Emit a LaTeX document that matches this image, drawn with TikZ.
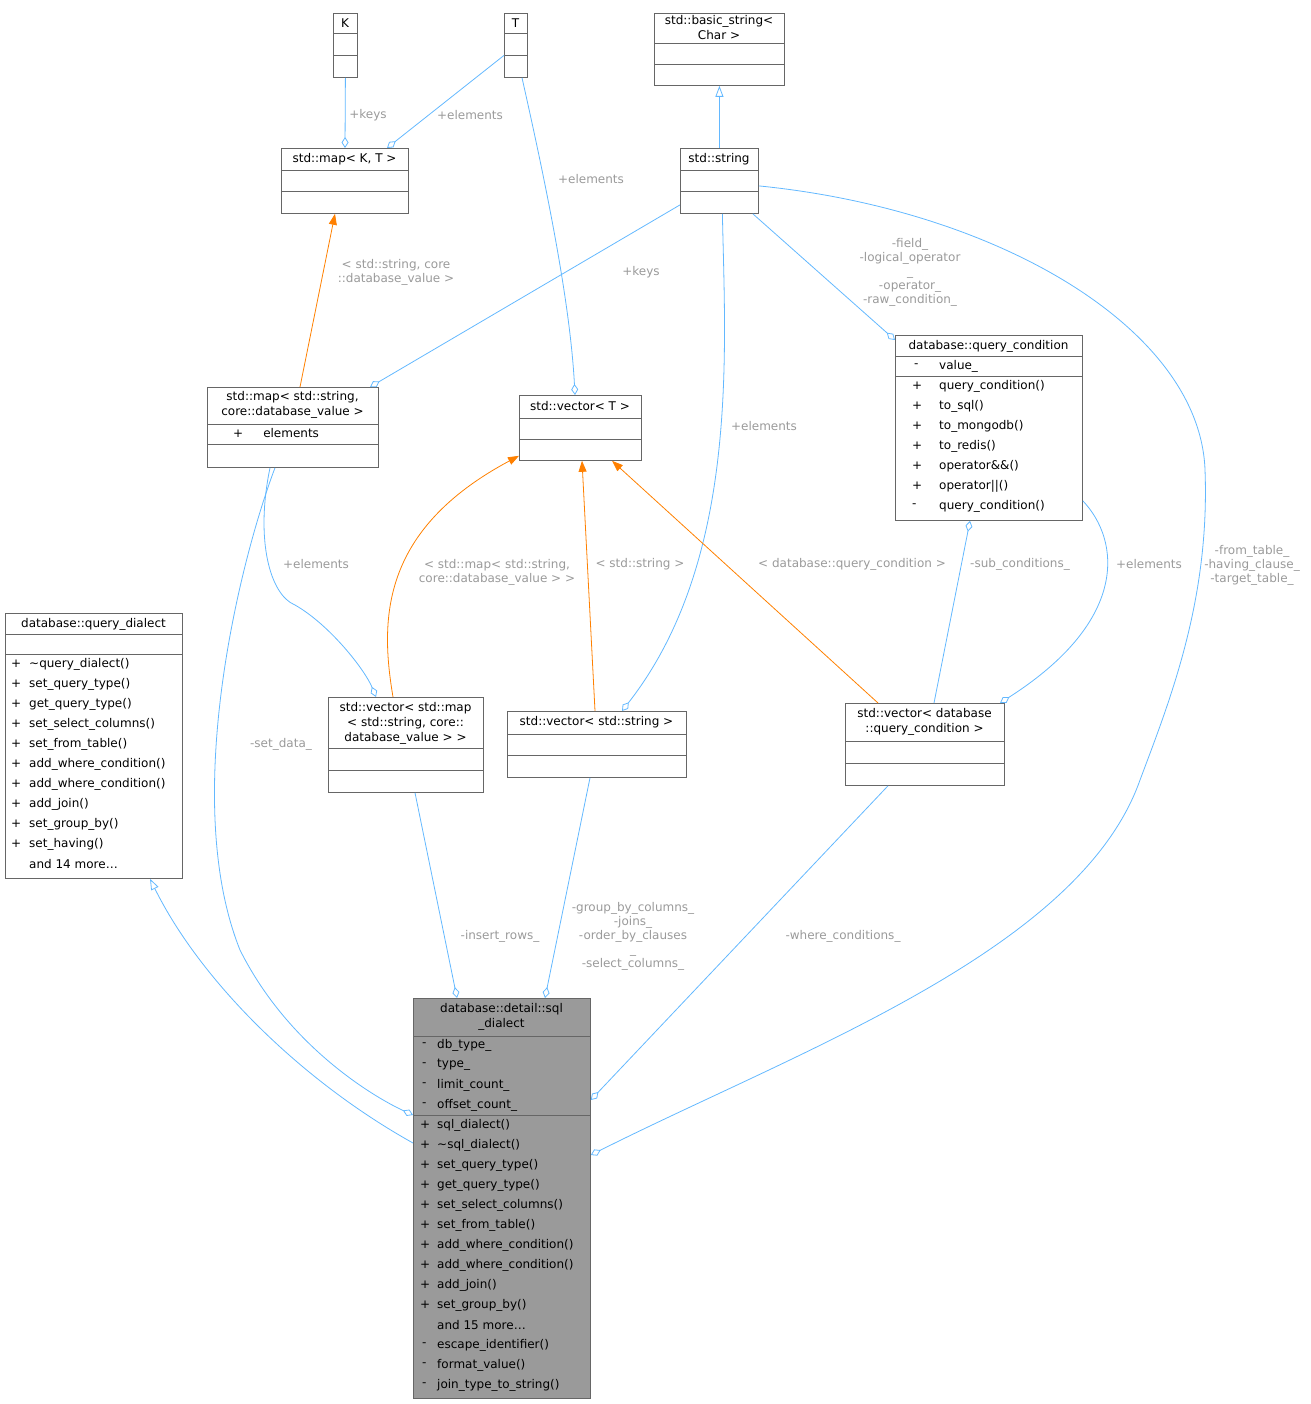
\documentclass[tikz,border=0pt]{standalone}
\usepackage{fontspec}
\setmainfont{DejaVu Sans}
\usetikzlibrary{arrows.meta}
\definecolor{eb}{HTML}{63B8FF}
\definecolor{lg}{HTML}{9A9A9A}
\definecolor{bl}{HTML}{666666}
\begin{document}
\begin{tikzpicture}[x=1pt,y=-1pt,
  box/.style={draw=bl,fill=white,line width=0.8pt,inner sep=0,anchor=north west},
  mem/.style={inner sep=0,anchor=west,font=\fontsize{12}{15}\selectfont},
  ttl/.style={inner sep=0,align=center,font=\fontsize{12}{15}\selectfont},
  lbl/.style={inner sep=0,align=center,text=lg,font=\fontsize{12}{14}\selectfont},
  edge/.style={draw=eb,line width=0.8pt},
  agg/.style={edge,-{Diamond[open,length=11pt,width=7pt]}},
  inh/.style={edge,-{Triangle[open,length=11pt,width=8pt]}},
  tpl/.style={draw=orange,line width=0.8pt,-{Triangle[length=11pt,width=8pt]}}]
\newcommand\cbox[6][white]{\node[box,fill=#1,minimum width={(#5-#3)*1pt},minimum height={(#6-#4)*1pt}] (#2) at (#3,#4) {};}
\newcommand\hl[3]{\draw[bl,line width=0.8pt] (#1,#3) -- (#2,#3);}
\useasboundingbox (0,0) rectangle (1310,1404);
% boxes
\cbox{K}{333}{13}{357}{77}\hl{333}{357}{33}\hl{333}{357}{55}
\node[ttl] (tK) at (345,23) {K};
\cbox{T}{504}{13}{527}{77}\hl{504}{527}{33}\hl{504}{527}{55}
\node[ttl] (tT) at (515.5,23) {T};
\cbox{bs}{654}{13}{784}{85}\hl{654}{784}{43}\hl{654}{784}{64}
\node[ttl] (tbs) at (719,28) {std::basic\_string<\\Char >};
\cbox{mKT}{281}{148}{408}{213}\hl{281}{408}{170}\hl{281}{408}{191}
\node[ttl] (tmKT) at (344.5,159) {std::map< K, T >};
\cbox{str}{680}{148}{758}{213}\hl{680}{758}{170}\hl{680}{758}{191}
\node[ttl] (tstr) at (719,159) {std::string};
\cbox{mSD}{207}{387}{378}{467}\hl{207}{378}{424}\hl{207}{378}{444}
\node[ttl] (tmSD) at (292.5,405) {std::map< std::string,\\core::database\_value >};
\node[mem] (mSDa) at (233,433) {+\hspace{20pt}elements};
\cbox{vT}{519}{395}{641}{460}\hl{519}{641}{418}\hl{519}{641}{439}
\node[ttl] (tvT) at (580,406) {std::vector< T >};
\cbox{qc}{895}{335}{1082}{520}\hl{895}{1082}{356}\hl{895}{1082}{376}
\node[ttl] (tqc) at (988.5,346) {database::query\_condition};
\node[mem] at (914,366) {-}; \node[mem] at (939,366) {value\_};
\foreach \s/\t [count=\i from 0] in {+/query\_condition(),+/to\_sql(),+/to\_mongodb(),+/to\_redis(),+/operator\&\&(),+/operator||(),-/query\_condition()}
  {\node[mem] at (912,386+20*\i) {\s}; \node[mem] at (939,386+20*\i) {\t};}
\cbox{qd}{5}{613}{182}{878}\hl{5}{182}{634}\hl{5}{182}{654}
\node[ttl] (tqd) at (93.5,624) {database::query\_dialect};
\foreach \t [count=\i from 0] in {\textasciitilde query\_dialect(),set\_query\_type(),get\_query\_type(),set\_select\_columns(),set\_from\_table(),add\_where\_condition(),add\_where\_condition(),add\_join(),set\_group\_by(),set\_having()}
  {\node[mem] at (11,664+20*\i) {+}; \node[mem] at (29,664+20*\i) {\t};}
\node[mem] at (29,864) {and 14 more\ldots};
\cbox{vM}{328}{697}{483}{792}\hl{328}{483}{748}\hl{328}{483}{770}
\node[ttl] (tvM) at (405.5,723) {std::vector< std::map\\< std::string, core::\\database\_value > >};
\cbox{vS}{507}{711}{686}{777}\hl{507}{686}{734}\hl{507}{686}{755}
\node[ttl] (tvS) at (596.5,722.5) {std::vector< std::string >};
\cbox{vQ}{845}{703}{1004}{785}\hl{845}{1004}{741}\hl{845}{1004}{763}
\node[ttl] (tvQ) at (924.5,722) {std::vector< database\\::query\_condition >};
\cbox[lg]{sd}{413}{998}{590}{1398}\hl{413}{590}{1036}\hl{413}{590}{1115}
\node[ttl] (tsd) at (501.5,1017) {database::detail::sql\\\_dialect};
\foreach \t [count=\i from 0] in {db\_type\_,type\_,limit\_count\_,offset\_count\_}
  {\node[mem] at (422,1045+20*\i) {-}; \node[mem] at (437,1045+20*\i) {\t};}
\foreach \t [count=\i from 0] in {sql\_dialect(),\textasciitilde sql\_dialect(),set\_query\_type(),get\_query\_type(),set\_select\_columns(),set\_from\_table(),add\_where\_condition(),add\_where\_condition(),add\_join(),set\_group\_by()}
  {\node[mem] at (420,1125+20*\i) {+}; \node[mem] at (437,1125+20*\i) {\t};}
\node[mem] at (437,1325) {and 15 more\ldots};
\foreach \t [count=\i from 0] in {escape\_identifier(),format\_value(),join\_type\_to\_string()}
  {\node[mem] at (422,1345+20*\i) {-}; \node[mem] at (437,1345+20*\i) {\t};}
% edges
\draw[agg] (K.south) -- ([xshift=64pt]mKT.north west);
\node[lbl] at (368,115) {+keys};
\draw[agg] ([yshift=-10pt]T.west) -- ([xshift=106pt]mKT.north west);
\node[lbl] at (470,115) {+elements};
\draw[inh] (str.north) -- (bs.south);
\draw[agg] ([xshift=18pt]T.south west) .. controls (545,180) and (570,300) .. ([xshift=56pt]vT.north west);
\node[lbl] at (591,179) {+elements};
\draw[tpl] ([xshift=93pt]mSD.north west) -- ([xshift=54pt]mKT.south west);
\node[lbl] at (396,272) {< std::string, core\\::database\_value >};
\draw[agg] ([yshift=-24pt]str.west) -- ([xshift=163pt]mSD.north west);
\node[lbl] at (641,272) {+keys};
\draw[agg] ([xshift=-6pt]str.south east) -- ([yshift=-5pt]qc.north west);
\node[lbl] at (910,272) {-field\_\\-logical\_operator\\\_\\-operator\_\\-raw\_condition\_};
\draw[agg] ([xshift=3pt]str.south) .. controls (725,350) and (740,560) .. ([xshift=115pt]vS.north west);
\node[lbl] at (764,426) {+elements};
\draw[agg] ([yshift=-5pt]str.east) .. controls (1000,210) and (1200,330) .. (1205,470) .. controls (1210,600) and (1170,700) .. (1140,780) .. controls (1080,950) and (800,1050) .. ([yshift=-157pt]sd.north east);
\node[lbl] at (1252,565) {-from\_table\_\\-having\_clause\_\\-target\_table\_};
\draw[agg] ([xshift=68pt]mSD.south west) .. controls (240,560) and (180,800) .. (240,950) .. controls (290,1050) and (380,1100) .. ([yshift=-117pt]sd.north west);
\node[lbl] at (281,744) {-set\_data\_};
\draw[agg] ([xshift=63pt]mSD.south west) .. controls (255,540) and (270,595) .. (295,605) .. controls (330,625) and (365,670) .. ([xshift=48pt]vM.north west);
\node[lbl] at (316,564) {+elements};
\draw[tpl] ([xshift=65pt]vM.north west) .. controls (380,620) and (380,530) .. ([yshift=5pt]vT.south west);
\node[lbl] at (497,572) {< std::map< std::string,\\core::database\_value > >};
\draw[tpl] ([xshift=88pt]vS.north west) -- ([xshift=63pt]vT.south west);
\node[lbl] at (640,564) {< std::string >};
\draw[tpl] ([xshift=33pt]vQ.north west) -- ([xshift=93pt]vT.south west);
\node[lbl] at (852,564) {< database::query\_condition >};
\draw[agg] ([xshift=89pt]vQ.north west) -- ([xshift=75pt]qc.south west);
\node[lbl] at (1020,564) {-sub\_conditions\_};
\draw[agg] ([yshift=20pt]qc.south east) .. controls (1120,540) and (1130,620) .. ([xshift=155pt]vQ.north west);
\node[lbl] at (1149,564) {+elements};
\draw[inh] ([yshift=-145pt]sd.north west) .. controls (300,1080) and (200,980) .. ([xshift=145pt]qd.south west);
\draw[agg] ([xshift=87pt]vM.south west) -- ([xshift=44pt]sd.north west);
\node[lbl] at (500,936) {-insert\_rows\_};
\draw[agg] ([xshift=83pt]vS.south west) -- ([xshift=132pt]sd.north west);
\node[lbl] at (633,936) {-group\_by\_columns\_\\-joins\_\\-order\_by\_clauses\\\_\\-select\_columns\_};
\draw[agg] ([xshift=43pt]vQ.south west) -- ([yshift=-102pt]sd.north east);
\node[lbl] at (843,936) {-where\_conditions\_};
\end{tikzpicture}
\end{document}
